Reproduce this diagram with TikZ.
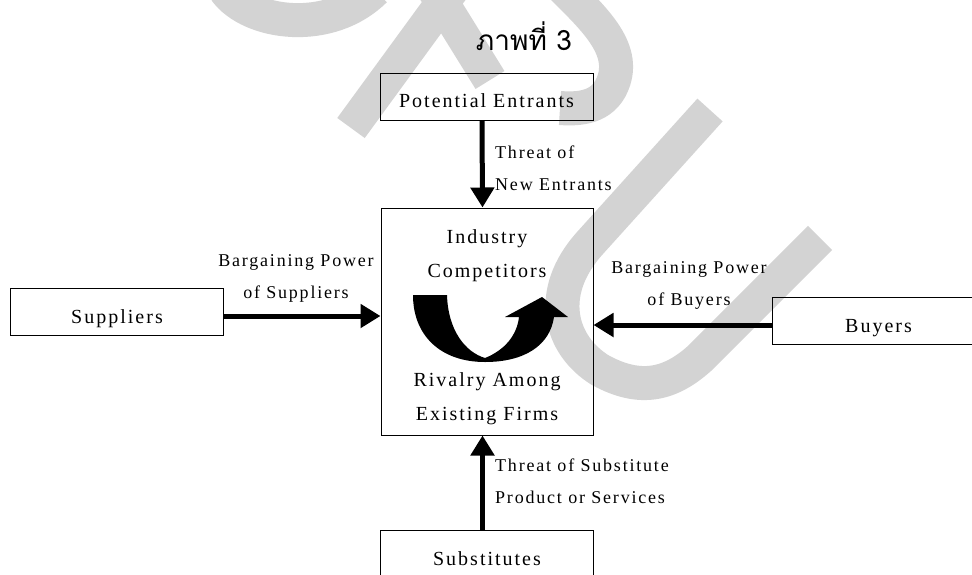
\documentclass[tikz,border=0pt]{standalone}
\usepackage{fontspec}
\setmainfont{Liberation Serif}
\newfontfamily\lbl{Liberation Serif}[LetterSpace=10]
\newfontfamily\thaifont[Script=Thai]{Loma}
\usetikzlibrary{arrows.meta}
\definecolor{sealgray}{RGB}{211,211,211}

\tikzset{
  force/.style={draw, line width=1pt, minimum width=213pt, minimum height=47pt,
    inner sep=0pt, text height=22pt, text depth=0pt, font=\lbl\fontsize{20}{24}\selectfont},
  push/.style={line width=5pt, -{Triangle[length=20pt,width=23pt]}},
  tag/.style={font=\lbl\fontsize{18}{32}\selectfont, inner sep=0pt},
  core/.style={font=\lbl\fontsize{20}{34}\selectfont, inner sep=0pt, align=center},
  seal/.style={draw=sealgray, line width=34pt}
}

\begin{document}
\begin{tikzpicture}[x=1pt, y=-1pt]
\useasboundingbox (0,0) rectangle (972,574);

% Watermark
\begin{scope}
  \clip (0,0) rectangle (972,574);
  \draw[seal] (225,-10) .. controls (250,25) and (330,35) .. (375,-10);
  \draw[seal] (351,128) -- (470,-35);
  \draw[seal, line join=round] (425,-25) -- (490,80);
  \draw[seal] (555,-20) .. controls (590,15) and (625,45) .. (614,80) .. controls (606,105) and (585,110) .. (560,108);
  \draw[seal] (710,110) -- (590,243) .. controls (545,293) and (560,345) .. (600,370) .. controls (640,392) and (670,385) .. (700,358) -- (820,238);
\end{scope}

% Title
\node[font=\thaifont\fontsize{28}{30}\selectfont, anchor=base] (title) at (524,50) {ภาพที่ 3};

% Five forces
\node[force] (entrants) at (486.5,96.5) {Potential Entrants};
\node[force, minimum width=212pt, minimum height=227pt] (rivalry) at (487,321.5) {};
\node[force] (suppliers) at (117,312) {Suppliers};
\node[force] (buyers) at (878.5,321) {Buyers};
\node[force] (substitutes) at (487,554) {Substitutes};

% Text in the middle box
\node[core, anchor=base] (industry) at (487,277) {Industry\\Competitors};
\node[core, anchor=base] (firms) at (487,420) {Rivalry Among\\Existing Firms};

% Rivalry arrow
\fill (413,295) -- (447,295) .. controls (448,330) and (465,352) .. (485,358)
  .. controls (505,350) and (517,335) .. (519,317) -- (505,317) -- (542,297) -- (568,317) -- (554,317)
  .. controls (550,345) and (525,362) .. (485,362) .. controls (440,362) and (413,335) .. (413,295) -- cycle;

% Arrows
\draw[push] ([xshift=-4.5pt]entrants.south) -- ([xshift=-4.5pt]rivalry.north);
\draw[push] ([yshift=-4pt]suppliers.east) -- ([yshift=-4pt]suppliers.east -| rivalry.west);
\draw[push] ([yshift=-4pt]buyers.west) -- ([yshift=-4pt]buyers.west -| rivalry.east);
\draw[push] ([xshift=-4.5pt]substitutes.north) -- ([xshift=-4.5pt]rivalry.south);

% Labels
\node[tag, align=left, anchor=base west] (newlab) at (495,190) {Threat of\\New Entrants};
\node[tag, align=center, anchor=base] (supplab) at (296,298) {Bargaining Power\\of Suppliers};
\node[tag, align=center, anchor=base] (buylab) at (689,305) {Bargaining Power\\of Buyers};
\node[tag, align=left, anchor=base west] (sublab) at (495,503) {Threat of Substitute\\Product or Services};

\end{tikzpicture}
\end{document}
